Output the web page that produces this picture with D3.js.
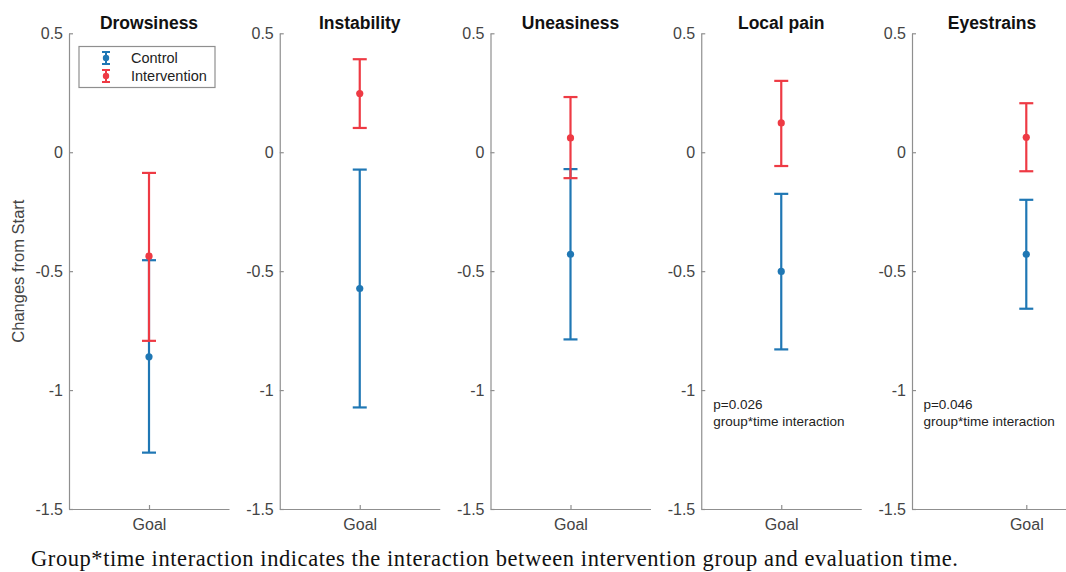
<!DOCTYPE html>
<html lang="en">
<head>
	<meta charset="UTF-8">
	<title>Changes from Start</title>
	<script src="https://cdn.jsdelivr.net/npm/d3@7"></script>
	<style type="text/css">
		body { margin: 0; background: #fff; }
		svg { display: block; }
		.axis path, .axis line { stroke: #8f8f8f; stroke-width: 1.2; }
		.axis text { fill: #444; font-family: 'Liberation Sans', Arial, sans-serif; font-size: 16px; }
		.title { font-family: 'Liberation Sans', Arial, sans-serif; font-weight: bold; font-size: 17.5px; fill: #111; }
		.note { font-family: 'Liberation Sans', Arial, sans-serif; font-size: 13.5px; fill: #222; }
		.legend text { font-family: 'Liberation Sans', Arial, sans-serif; font-size: 14.5px; fill: #222; }
		.caption { font-family: 'Liberation Serif', 'Times New Roman', serif; font-size: 22.5px; fill: #111; }
	</style>
</head>
<body>

<script type="text/javascript">
	// values
	var panels = ['Drowsiness', 'Instability', 'Uneasiness', 'Local pain', 'Eyestrains'];
	var controlMean = [-0.86, -0.573, -0.429, -0.501, -0.429];
	var controlLow = [-1.263, -1.073, -0.787, -0.829, -0.658];
	var controlHigh = [-0.454, -0.073, -0.071, -0.175, -0.2];
	var interMean = [-0.437, 0.247, 0.06, 0.123, 0.063];
	var interLow = [-0.793, 0.102, -0.109, -0.058, -0.08];
	var interHigh = [-0.087, 0.391, 0.232, 0.3, 0.206];
	var yTicks = [-1.5, -1, -0.5, 0, 0.5];
	var xTickLabel = 'Goal';
	var xMax = [2, 2, 2, 2, 1.4];
	var notes = [null, null, null, ['p=0.026', 'group*time interaction'], ['p=0.046', 'group*time interaction']];
	var noteX = [0, 0, 0, 0.15, 0.1];
	var noteY = -1.06;
	var seriesNames = ['Control', 'Intervention'];
	var seriesColors = ['#1f77b4', '#ee3a44'];
	var caption = 'Group*time interaction indicates the interaction between intervention group and evaluation time.';

	var width = 1066, height = 572;
	var plotTop = 33.3, plotBottom = 509, plotWidth = 160;
	var capHalf = 7;

	var svg = d3.select('body').append('svg')
		.attr('width', width)
		.attr('height', height);

	var panelLeft = d3.scaleLinear().domain([0, 4]).range([69, 912]);

	var y = d3.scaleLinear()
		.domain([-1.5, 0.5])
		.range([plotBottom, plotTop]);

	panels.forEach(function (name, i) {
		var g = svg.append('g')
			.attr('transform', 'translate(' + panelLeft(i) + ',0)');

		var x = d3.scaleLinear()
			.domain([0, xMax[i]])
			.range([0, plotWidth]);

		g.append('g')
			.attr('class', 'axis')
			.call(d3.axisLeft(y).tickValues(yTicks).tickSizeInner(-4).tickSizeOuter(0).tickPadding(6)
				.tickFormat(function (d) { return String(d); }));

		g.append('g')
			.attr('class', 'axis')
			.attr('transform', 'translate(0,' + plotBottom + ')')
			.call(d3.axisBottom(x).tickValues([1]).tickSizeInner(-4).tickSizeOuter(0).tickPadding(10)
				.tickFormat(function () { return xTickLabel; }));

		g.append('text')
			.attr('class', 'title')
			.attr('x', plotWidth / 2)
			.attr('y', 29)
			.attr('text-anchor', 'middle')
			.text(name);

		var groups = [
			{mean: controlMean[i], low: controlLow[i], high: controlHigh[i], color: seriesColors[0]},
			{mean: interMean[i], low: interLow[i], high: interHigh[i], color: seriesColors[1]}
		];

		groups.forEach(function (d) {
			var cx = x(1);
			var bar = g.append('g')
				.style('stroke', d.color)
				.style('stroke-width', 2.2);
			bar.append('line')
				.attr('x1', cx).attr('x2', cx)
				.attr('y1', y(d.low)).attr('y2', y(d.high));
			[d.low, d.high].forEach(function (v) {
				bar.append('line')
					.attr('x1', cx - capHalf).attr('x2', cx + capHalf)
					.attr('y1', y(v)).attr('y2', y(v));
			});
			g.append('circle')
				.attr('cx', cx)
				.attr('cy', y(d.mean))
				.attr('r', 3.6)
				.style('fill', d.color);
		});

		if (notes[i]) {
			var t = g.append('text')
				.attr('class', 'note')
				.attr('x', x(noteX[i]))
				.attr('y', y(noteY) + 5);
			notes[i].forEach(function (line, k) {
				t.append('tspan')
					.attr('x', x(noteX[i]))
					.attr('dy', k === 0 ? 0 : 17)
					.text(line);
			});
		}
	});

	// y label
	svg.append('text')
		.attr('transform', 'translate(24,' + y(-0.5) + ') rotate(-90)')
		.attr('text-anchor', 'middle')
		.style('font-family', "'Liberation Sans', Arial, sans-serif")
		.style('font-size', '16.5px')
		.style('fill', '#444')
		.text('Changes from Start');

	// legend
	var legend = svg.append('g').attr('class', 'legend');
	legend.append('rect')
		.attr('x', 79).attr('y', 46.5)
		.attr('width', 136).attr('height', 41)
		.style('fill', '#fff')
		.style('stroke', '#8f8f8f')
		.style('stroke-width', 1.2);

	seriesNames.forEach(function (name, k) {
		var ly = 58 + k * 18;
		var item = legend.append('g').style('stroke', seriesColors[k]).style('stroke-width', 2);
		item.append('line').attr('x1', 106).attr('x2', 106).attr('y1', ly - 6).attr('y2', ly + 6);
		item.append('line').attr('x1', 102).attr('x2', 110).attr('y1', ly - 6).attr('y2', ly - 6);
		item.append('line').attr('x1', 102).attr('x2', 110).attr('y1', ly + 6).attr('y2', ly + 6);
		legend.append('circle').attr('cx', 106).attr('cy', ly).attr('r', 3.2).style('fill', seriesColors[k]);
		legend.append('text')
			.attr('x', 131)
			.attr('y', ly + 5)
			.text(name);
	});

	svg.append('text')
		.attr('class', 'caption')
		.attr('x', 31)
		.attr('y', 566)
		.attr('textLength', 927)
		.attr('lengthAdjust', 'spacing')
		.text(caption);
</script>

</body>
</html>
